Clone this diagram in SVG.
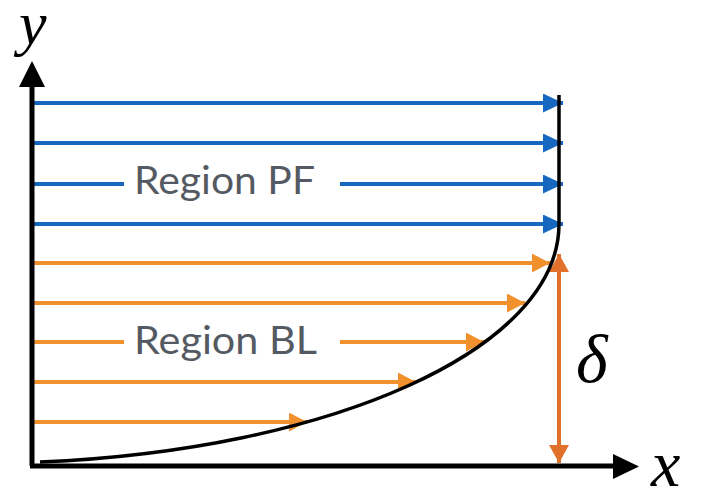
<svg xmlns="http://www.w3.org/2000/svg" width="704" height="502" viewBox="0 0 704 502">
<defs>
<style>
.blue{stroke:#1667BF;stroke-width:4;fill:none}
.orange{stroke:#F0912E;stroke-width:4;fill:none}
.lbl{font-family:Lato,"Open Sans","Liberation Sans",sans-serif;font-size:39px;fill:#555A62}
.math{font-family:"Liberation Serif","DejaVu Serif",serif;font-style:italic;fill:#000}
</style>
<marker id="ab" markerUnits="userSpaceOnUse" markerWidth="20" markerHeight="20" refX="20" refY="9.5" orient="auto"><path d="M0,0 L20,9.5 L0,19 z" fill="#1667BF"/></marker>
<marker id="ao" markerUnits="userSpaceOnUse" markerWidth="20" markerHeight="20" refX="18" refY="9.5" orient="auto"><path d="M0,0 L18,9.5 L0,19 z" fill="#F0912E"/></marker>
<marker id="ad" markerUnits="userSpaceOnUse" markerWidth="20" markerHeight="22" refX="18" refY="10" orient="auto-start-reverse"><path d="M0,0 L18,10 L0,20 z" fill="#E0702A"/></marker>
</defs>
<g id="connectors">
<line class="blue" x1="32" y1="103" x2="563" y2="103" marker-end="url(#ab)"/>
<line class="blue" x1="32" y1="143" x2="563" y2="143" marker-end="url(#ab)"/>
<line class="blue" x1="32" y1="184" x2="124" y2="184"/>
<line class="blue" x1="340" y1="184" x2="563" y2="184" marker-end="url(#ab)"/>
<line class="blue" x1="32" y1="224" x2="563" y2="224" marker-end="url(#ab)"/>
<line class="orange" x1="32" y1="263" x2="550" y2="263" marker-end="url(#ao)"/>
<line class="orange" x1="32" y1="303" x2="525" y2="303" marker-end="url(#ao)"/>
<line class="orange" x1="32" y1="342" x2="124" y2="342"/>
<line class="orange" x1="340" y1="342" x2="484" y2="342" marker-end="url(#ao)"/>
<line class="orange" x1="32" y1="382" x2="416" y2="382" marker-end="url(#ao)"/>
<line class="orange" x1="32" y1="422" x2="307" y2="422" marker-end="url(#ao)"/>
<line x1="559" y1="254" x2="559" y2="463" stroke="#E0702A" stroke-width="4" marker-start="url(#ad)" marker-end="url(#ad)"/>
</g>
<g id="profile">
<path d="M40,462 C330,450 559,350 559,224 L559,95" fill="none" stroke="#000" stroke-width="3.5"/>
</g>
<g id="axes">
<line x1="32" y1="466" x2="32" y2="80" stroke="#000" stroke-width="5"/>
<polygon points="19,87 45,87 32,61" fill="#000"/>
<line x1="30" y1="466" x2="618" y2="466" stroke="#000" stroke-width="5"/>
<polygon points="613,454 613,479 639,466.5" fill="#000"/>
</g>
<g id="label-y"><text class="math" x="19" y="44" font-size="62">y</text></g>
<g id="label-x"><text class="math" x="651" y="486" font-size="66">x</text></g>
<g id="label-delta"><text class="math" x="576" y="382" font-size="68">δ</text></g>
<g id="region-pf"><text class="lbl" x="134" y="194" textLength="181" lengthAdjust="spacingAndGlyphs">Region PF</text></g>
<g id="region-bl"><text class="lbl" x="134" y="354" textLength="183" lengthAdjust="spacingAndGlyphs">Region BL</text></g>
</svg>
